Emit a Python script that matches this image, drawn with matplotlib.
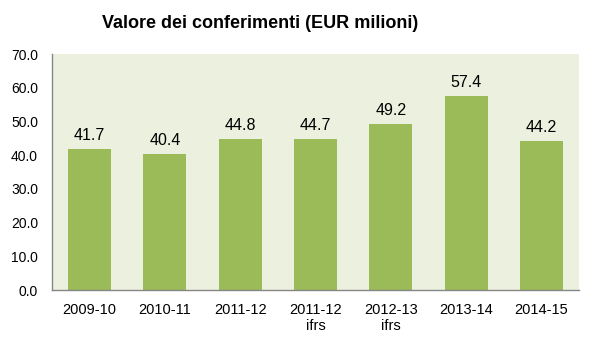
import matplotlib
matplotlib.use("Agg")
import matplotlib.pyplot as plt
import numpy as np

periods = ['2009-10', '2010-11', '2011-12', '2011-12', '2012-13', '2013-14', '2014-15']
notes = ['', '', '', 'ifrs', 'ifrs', '', '']
values = [41.7, 40.4, 44.8, 44.7, 49.2, 57.4, 44.2]
yticks = np.arange(0, 71, 10)

bar_c = '#9BBB59'
bg_c = '#EBF1DE'
axis_c = '#868686'

plt.rcParams['font.family'] = ['Liberation Sans', 'DejaVu Sans']

W, H = 594, 344
fig = plt.figure(figsize=(W / 100, H / 100), dpi=100)
ax = fig.add_axes([52 / W, 1 - 290 / H, (579 - 52) / W, (290 - 54) / H])
ax.set_facecolor(bg_c)

x = np.arange(len(values))
bars = ax.bar(x, values, width=0.57, color=bar_c, zorder=2)
for xi, v in zip(x, values):
    ax.annotate('%.1f' % v, (xi, v), xytext=(0, 6.5), textcoords='offset points',
                ha='center', va='baseline', fontsize=11.5)

ax.set_xlim(-0.5, len(values) - 0.5)
ax.set_ylim(0, 70)
ax.set_yticks(yticks)
ax.set_yticklabels(['%.1f' % t for t in yticks], fontsize=10)
ax.set_xticks(x)
ax.set_xticklabels(periods, fontsize=10.5)
ax.tick_params(axis='y', length=0, pad=10)
ax.tick_params(axis='x', length=0, pad=9.5)
for xi, n in zip(x, notes):
    if n:
        ax.annotate(n, (xi, 0), xytext=(0, -40 * 0.72), textcoords='offset points',
                    ha='center', va='baseline', fontsize=10.5)

for s in ['top', 'right']:
    ax.spines[s].set_visible(False)
for s in ['left', 'bottom']:
    ax.spines[s].set_color(axis_c)
    ax.spines[s].set_linewidth(1)

fig.text(260 / W, 1 - 24 / H, 'Valore dei conferimenti (EUR milioni)',
         ha='center', va='center', fontsize=13, fontweight='bold')

fig.savefig('out.png', dpi=100)
